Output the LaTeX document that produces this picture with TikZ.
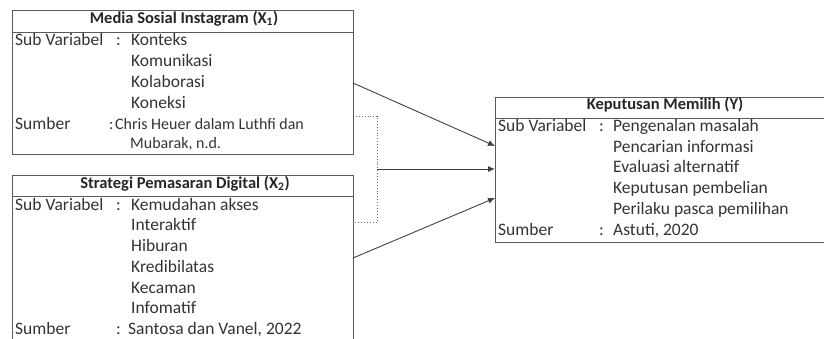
\documentclass[tikz,border=0pt]{standalone}
\usepackage{fontspec}
\setmainfont{Carlito}
\usetikzlibrary{arrows.meta}
\begin{document}
\begin{tikzpicture}[x=1pt,y=-1pt,
  frame/.style={draw=black!65, line width=0.9pt},
  txt/.style={anchor=mid west, inner sep=0pt, font=\fontsize{17.5}{20}\selectfont, text=black!80},
  small/.style={anchor=mid west, inner sep=0pt, font=\fontsize{16}{18}\selectfont, text=black!80},
  ttl/.style={anchor=mid, inner sep=0pt, font=\bfseries\fontsize{16.5}{18}\selectfont, text=black!85},
  conn/.style={draw=black!75, line width=0.9pt, -{Latex[length=7pt,width=6pt]}},
  dotl/.style={draw=black!60, line width=0.9pt, dotted}]
\useasboundingbox (0,0) rectangle (824,339);
% Box 1
\draw[frame] (12,10) rectangle (353,154);
\draw[frame] (12,32) -- (353,32);
\node[ttl] (t1) at (184,21) {Media Sosial Instagram (X\textsubscript{1})};
\node[txt] (a1) at (15,43) {Sub Variabel};
\node[txt] (a2) at (116,43) {:};
\node[txt] (a3) at (131,43) {Konteks};
\node[txt] (a4) at (131,64) {Komunikasi};
\node[txt] (a5) at (131,85) {Kolaborasi};
\node[txt] (a6) at (131,106) {Koneksi};
\node[txt] (a7) at (15,127) {Sumber};
\node[small] (a8) at (109,127) {:};
\node[small] (a9) at (115,127) {Chris Heuer dalam Luthfi dan};
\node[small] (a10) at (130,146) {Mubarak, n.d.};
% Box 2
\draw[frame] (12,345) -- (12,175) -- (353,175) -- (353,345);
\draw[frame] (12,196) -- (353,196);
\node[ttl] (t2) at (185,186) {Strategi Pemasaran Digital (X\textsubscript{2})};
\node[txt] (b1) at (15,208) {Sub Variabel};
\node[txt] (b2) at (116,208) {:};
\node[txt] (b3) at (131,208) {Kemudahan akses};
\node[txt] (b4) at (131,228) {Interaktif};
\node[txt] (b5) at (131,249) {Hiburan};
\node[txt] (b6) at (131,270) {Kredibilatas};
\node[txt] (b7) at (131,291) {Kecaman};
\node[txt] (b8) at (131,311) {Infomatif};
\node[txt] (b9) at (15,332) {Sumber};
\node[txt] (b10) at (116,332) {:};
\node[txt] (b11) at (128,332) {Santosa dan Vanel, 2022};
% Box Y
\draw[frame] (830,97) -- (495,97) -- (495,242) -- (830,242);
\draw[frame] (495,118) -- (830,118);
\node[ttl] (ty) at (665,107) {Keputusan Memilih (Y)};
\node[txt] (y1) at (498,129) {Sub Variabel};
\node[txt] (y2) at (599,129) {:};
\node[txt] (y3) at (613,129) {Pengenalan masalah};
\node[txt] (y4) at (613,150) {Pencarian informasi};
\node[txt] (y5) at (613,170) {Evaluasi alternatif};
\node[txt] (y6) at (613,191) {Keputusan pembelian};
\node[txt] (y7) at (613,212) {Perilaku pasca pemilihan};
\node[txt] (y8) at (498,233) {Sumber};
\node[txt] (y9) at (599,233) {:};
\node[txt] (y10) at (613,233) {Astuti, 2020};
% connectors
\coordinate (s1) at (353,83);
\coordinate (e1) at (495,146);
\coordinate (s3) at (353,258);
\coordinate (e3) at (495,198);
\coordinate (d1) at (353,116);
\coordinate (d2) at (353,222);
\coordinate (dm) at (377,169);
\coordinate (e2) at (495,169);
\draw[conn] (s1) -- (e1);
\draw[conn] (s3) -- (e3);
\draw[conn] (dm) -- (e2);
\draw[dotl] (d1) -- (dm |- d1) -- (dm |- d2) -- (d2);
\end{tikzpicture}
\end{document}
